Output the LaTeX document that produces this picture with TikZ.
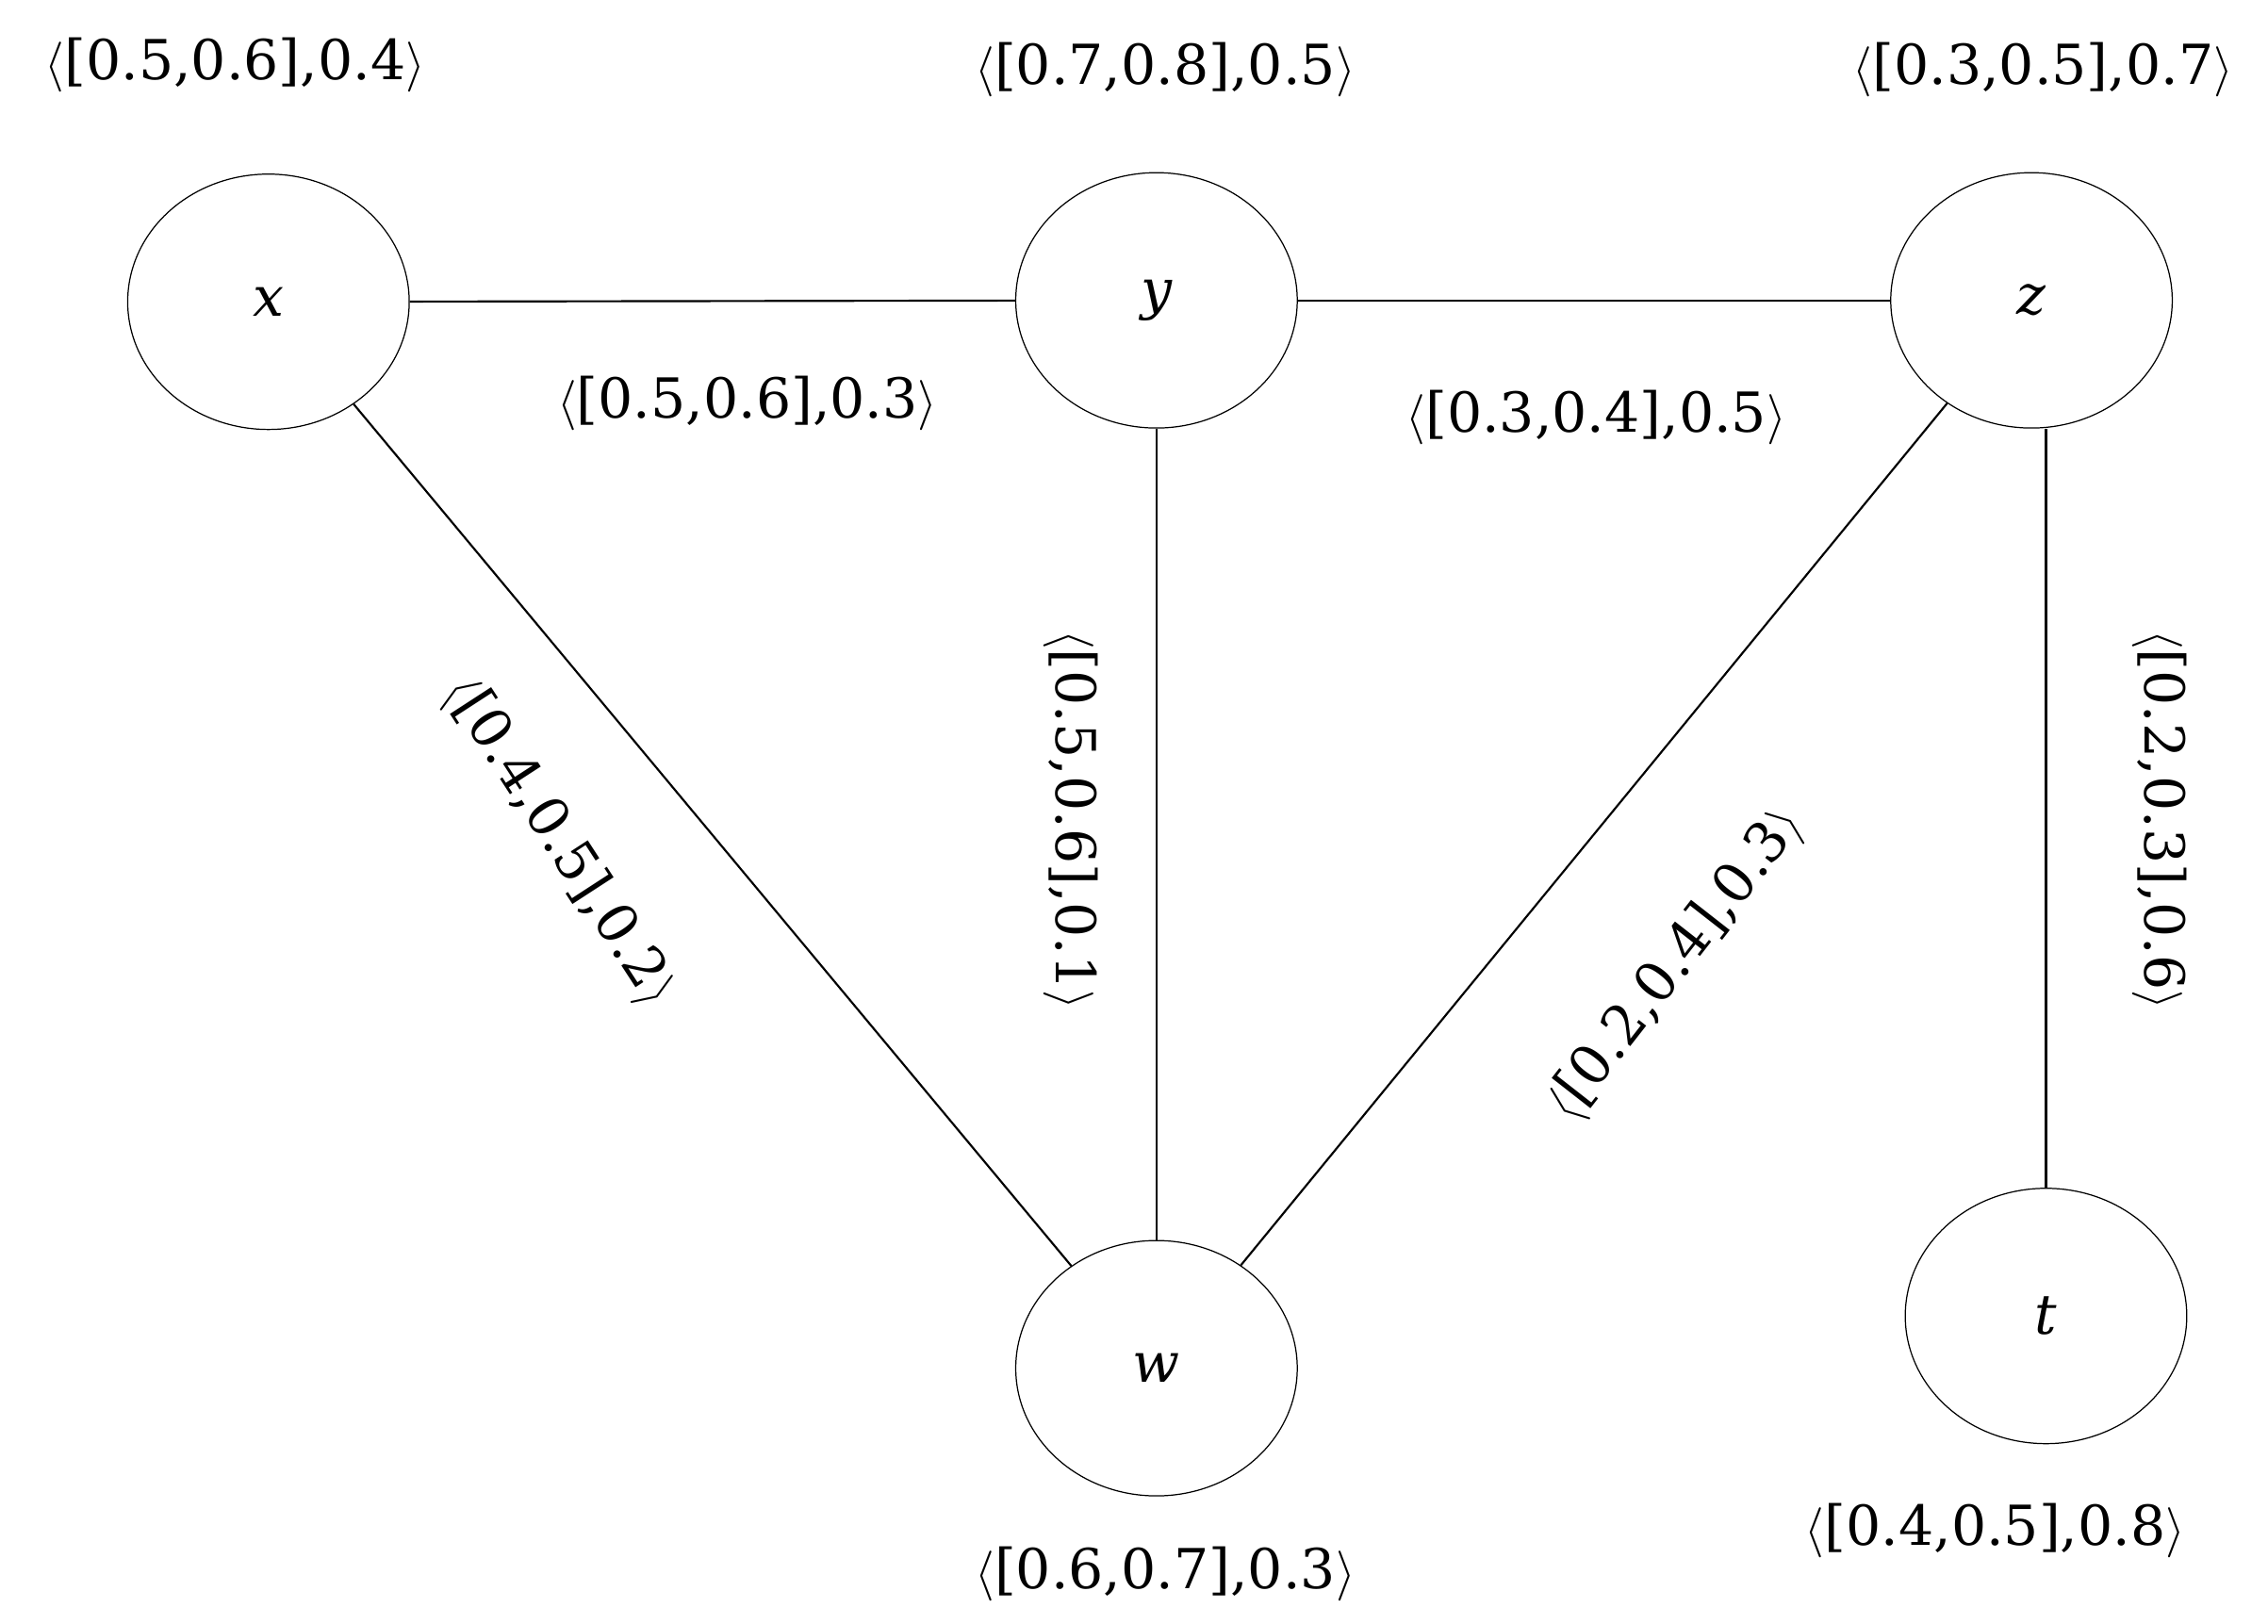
\documentclass[tikz,border=0pt]{standalone}
\usepackage{fontspec}
\setmainfont{DejaVu Serif}
\begin{document}
\begin{tikzpicture}[x=0.5pt,y=-0.5pt,
  vtx/.style={draw,ellipse,minimum width=97pt,minimum height=88pt,inner sep=0pt,font=\fontsize{19}{24}\selectfont\itshape},
  lbl/.style={font=\fontsize{19}{24}\selectfont,inner sep=0pt},
  edge/.style={draw,line width=0.7pt}]
\usetikzlibrary{shapes.geometric}
\useasboundingbox (0,0) rectangle (1563,1119);
\node[vtx] (x) at (185,208) {x};
\node[vtx] (y) at (797,207) {y};
\node[vtx] (z) at (1400,207) {z};
\node[vtx] (w) at (797,943) {w};
\node[vtx] (t) at (1410,907) {t};
\draw[edge] (x) -- (y);
\draw[edge] (y) -- (z);
\draw[edge] (x) -- (w);
\draw[edge] (y) -- (w);
\draw[edge] (z) -- (w);
\draw[edge] (t.north) -- (t.north |- z.south);
\node[lbl] (lx) at (162,45) {$\langle$[0.5,0.6],0.4$\rangle$};
\node[lbl] (ly) at (803,48) {$\langle$[0.7,0.8],0.5$\rangle$};
\node[lbl] (lz) at (1408,48) {$\langle$[0.3,0.5],0.7$\rangle$};
\node[lbl] (lw) at (803,1085) {$\langle$[0.6,0.7],0.3$\rangle$};
\node[lbl] (lt) at (1375,1055) {$\langle$[0.4,0.5],0.8$\rangle$};
\node[lbl] (lxy) at (515,278) {$\langle$[0.5,0.6],0.3$\rangle$};
\node[lbl] (lyz) at (1100,288) {$\langle$[0.3,0.4],0.5$\rangle$};
\node[lbl,rotate=-57] (lxw) at (385,580) {$\langle$[0.4,0.5],0.2$\rangle$};
\node[lbl,rotate=-90] (lyw) at (738,565) {$\langle$[0.5,0.6],0.1$\rangle$};
\node[lbl,rotate=52] (lzw) at (1155,665) {$\langle$[0.2,0.4],0.3$\rangle$};
\node[lbl,rotate=-90] (lzt) at (1488,565) {$\langle$[0.2,0.3],0.6$\rangle$};
\end{tikzpicture}
\end{document}
